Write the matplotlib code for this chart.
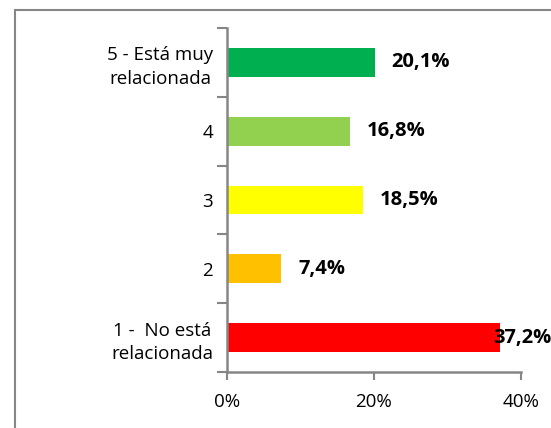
import matplotlib.pyplot as plt
from matplotlib.patches import Rectangle

# datos (de abajo hacia arriba)
categorias = ['1 -  No está\nrelacionada', '2', '3', '4', '5 - Está muy\nrelacionada']
valores = [37.2, 7.4, 18.5, 16.8, 20.1]
etiquetas = ['37,2%', '7,4%', '18,5%', '16,8%', '20,1%']
colores = ['#FF0000', '#FFC000', '#FFFF00', '#92D050', '#00B050']
ticks_x = [0, 20, 40]
ticks_x_txt = ['0%', '20%', '40%']

plt.rcParams['font.family'] = ['Open Sans', 'DejaVu Sans']
gris = '#868686'

fig = plt.figure(figsize=(5.51, 4.28), dpi=100)
fig.patches.append(Rectangle((15 / 551, -0.1), 1.2, 1.1 - 10 / 428, transform=fig.transFigure,
                             fill=False, edgecolor=gris, linewidth=1.5, figure=fig))

ax = fig.add_axes([227 / 551, 1 - 372 / 428, 294 / 551, 344 / 428])
ax.barh(range(len(valores)), valores, height=0.42, color=colores)

ax.set_xlim(0, 40)
ax.set_ylim(-0.5, len(valores) - 0.5)
ax.set_xticks(ticks_x)
ax.set_xticklabels(ticks_x_txt, fontsize=13.5)
ax.set_yticks(range(len(valores)))
ax.set_yticklabels(categorias, fontsize=13.5, linespacing=1.4, multialignment='center')
ax.tick_params(axis='y', length=0, pad=10)
ax.tick_params(axis='x', length=6, width=1.5, color=gris, pad=9)

# marcas entre categorias
ax.set_yticks([i - 0.5 for i in range(len(valores) + 1)], minor=True)
ax.tick_params(axis='y', which='minor', length=7, width=1.5, color=gris)

for lado in ['top', 'right']:
    ax.spines[lado].set_visible(False)
for lado in ['left', 'bottom']:
    ax.spines[lado].set_color(gris)
    ax.spines[lado].set_linewidth(1.8)

for i, (v, t) in enumerate(zip(valores, etiquetas)):
    desplaz = -5 if v > 35 else 12
    ax.annotate(t, (v, i), xytext=(desplaz, 0), textcoords='offset points',
                va='center', ha='left', fontsize=14.5, fontweight='bold', annotation_clip=False)

fig.savefig('out.png', dpi=100)
